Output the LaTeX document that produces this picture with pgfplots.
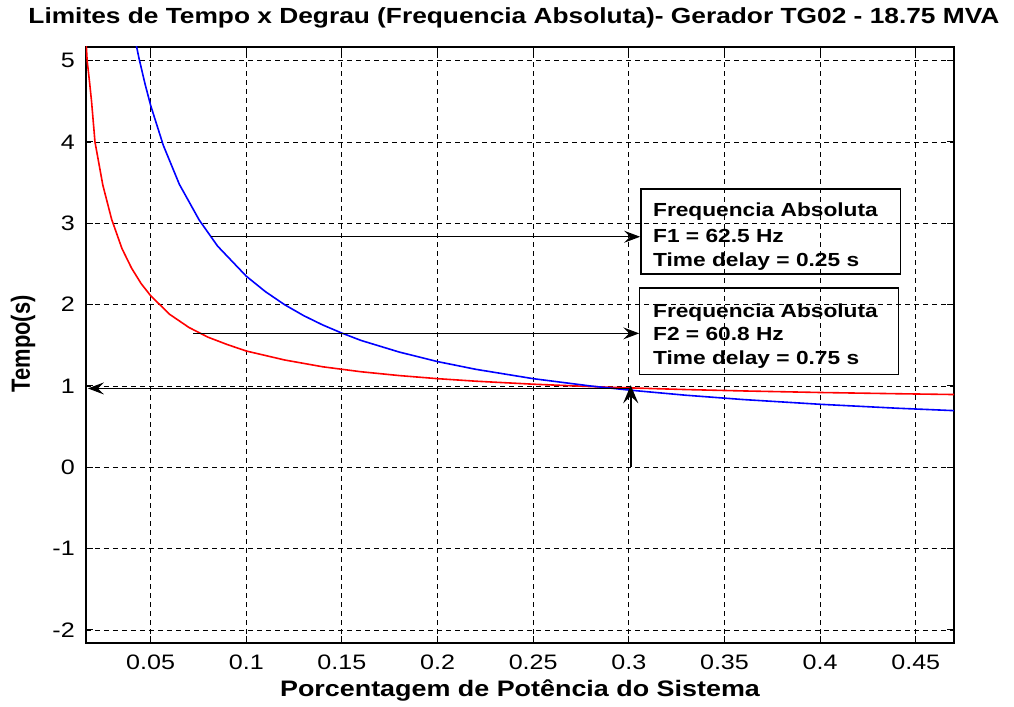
\documentclass[border=0pt]{standalone}
\usepackage{pgfplots}
\pgfplotsset{compat=1.18}
\usepackage{fontspec}
\setmainfont{Liberation Sans}[FakeStretch=1.2]
\newfontfamily\plainfont{Liberation Sans}
\usetikzlibrary{arrows.meta}

\pgfplotstableread{
x y
0.0162 5.25
0.0168 5.00
0.0180 4.75
0.0191 4.50
0.0209 4.00
0.0250 3.47
0.0296 3.05
0.0350 2.69
0.0400 2.45
0.0450 2.26
0.0500 2.11
0.0600 1.88
0.0700 1.72
0.0800 1.60
0.0900 1.51
0.1000 1.43
0.1200 1.32
0.1400 1.236
0.1600 1.175
0.1800 1.128
0.2000 1.090
0.2200 1.059
0.2500 1.022
0.2800 0.993
0.3000 0.977
0.3300 0.956
0.3600 0.939
0.4000 0.920
0.4400 0.905
0.4700 0.895
}\redcurve

\pgfplotstableread{
x y
0.0425 5.19
0.0439 5.03
0.0470 4.72
0.0500 4.45
0.0566 3.96
0.0650 3.48
0.0754 3.04
0.0850 2.72
0.1000 2.35
0.1100 2.16
0.1200 2.00
0.1300 1.865
0.1400 1.75
0.1500 1.65
0.1600 1.56
0.1800 1.417
0.2000 1.30
0.2200 1.205
0.2500 1.09
0.2800 1.00
0.3000 0.95
0.3300 0.886
0.3600 0.833
0.4000 0.775
0.4400 0.727
0.4700 0.697
}\bluecurve

\begin{document}
\begin{tikzpicture}
\useasboundingbox (-86bp,-64bp) rectangle (928bp,643bp);
\begin{axis}[
  scale only axis, width=868bp, height=596bp,
  at={(0,0)}, anchor=south west,
  xmin=0.0162, xmax=0.470, ymin=-2.16, ymax=5.168,
  xtick={0.05,0.1,0.15,0.2,0.25,0.3,0.35,0.4,0.45},
  xticklabels={0.05,0.1,0.15,0.2,0.25,0.3,0.35,0.4,0.45},
  ytick={-2,-1,0,1,2,3,4,5},
  yticklabels={-2,-1,0,1,2,3,4,5},
  tick align=inside, tick pos=both, major tick length=7bp,
  tick style={black, line width=1bp},
  grid=major,
  grid style={black, line width=0.9bp, dash pattern=on 5bp off 4bp},
  axis line style={black, line width=1.5bp},
  ticklabel style={font=\fontsize{21}{21}\selectfont, inner sep=0pt},
  xticklabel style={anchor=north, yshift=-12bp},
  yticklabel style={anchor=east, xshift=-11bp},
  title={Limites de Tempo x Degrau (Frequencia Absoluta)- Gerador TG02 - 18.75 MVA},
  title style={at={(axis description cs:0.493,1)}, anchor=base, yshift=18bp,
    font=\bfseries\fontsize{22}{22}\selectfont, inner sep=0pt},
  xlabel={Porcentagem de Potência do Sistema},
  xlabel style={at={(axis description cs:0.5,0)}, anchor=base, yshift=-53bp,
    font=\bfseries\fontsize{22.5}{22.5}\selectfont, inner sep=0pt},
  ylabel={\scalebox{1}[1.2]{Tempo(s)}},
  ylabel style={at={(axis description cs:-0.0726,0.502)}, anchor=center, rotate=0,
    font=\plainfont\bfseries\fontsize{22}{22}\selectfont, inner sep=0pt},
]
\addplot[red, line width=1.6bp, no marks] table[x=x, y=y] {\redcurve};
\addplot[blue, line width=1.6bp, no marks] table[x=x, y=y] {\bluecurve};

% annotation boxes
\draw[black, line width=1.2bp] (axis cs:0.3064,2.376) rectangle (axis cs:0.4419,3.422);
\draw[black, line width=1.2bp] (axis cs:0.3054,1.146) rectangle (axis cs:0.4408,2.204);
\begin{scope}[every node/.style={anchor=base west, inner sep=0pt,
    font=\bfseries\fontsize{19}{19}\selectfont}]
\node at (axis cs:0.3126,3.078) {Frequencia Absoluta};
\node at (axis cs:0.3126,2.770) {F1 = 62.5 Hz};
\node at (axis cs:0.3126,2.475) {Time delay = 0.25 s};
\node at (axis cs:0.3126,1.847) {Frequencia Absoluta};
\node at (axis cs:0.3126,1.565) {F2 = 60.8 Hz};
\node at (axis cs:0.3126,1.270) {Time delay = 0.75 s};
\end{scope}

% arrows
\draw[black, line width=1.1bp, -{Stealth[length=16bp,width=12bp,inset=6bp]}]
  (axis cs:0.0814,2.835) -- (axis cs:0.3059,2.835);
\draw[black, line width=1.1bp, -{Stealth[length=16bp,width=12bp,inset=6bp]}]
  (axis cs:0.0723,1.647) -- (axis cs:0.3054,1.647);
\draw[black, line width=1.1bp, -{Stealth[length=16bp,width=12bp,inset=6bp]}]
  (axis cs:0.301,0.97) -- (axis cs:0.0172,0.97);
\draw[black, line width=2.2bp, -{Stealth[length=18bp,width=15bp,inset=7bp]}]
  (axis cs:0.301,0) -- (axis cs:0.301,1.01);
\end{axis}
\end{tikzpicture}
\end{document}
